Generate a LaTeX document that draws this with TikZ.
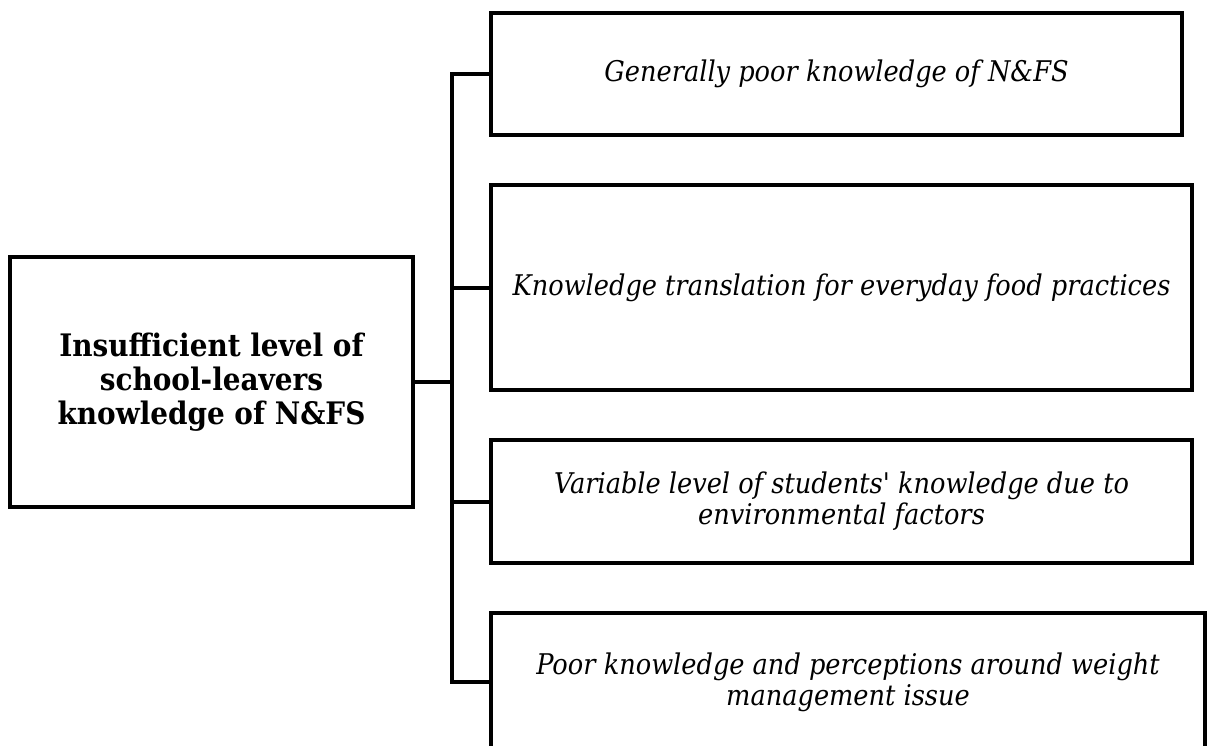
\documentclass[tikz,border=0pt]{standalone}
\usepackage{fontspec}
\setmainfont{DejaVu Serif Condensed}
\begin{document}
\begin{tikzpicture}[x=1pt,y=-1pt,
  box/.style={draw=black, line width=4pt, rectangle, inner sep=0pt, fill=white},
  itext/.style={font=\fontsize{28.5}{31}\selectfont\itshape, align=center},
  btext/.style={font=\fontsize{31}{34}\selectfont\bfseries, align=center},
  conn/.style={draw=black, line width=4pt}]
\useasboundingbox (0,0) rectangle (1213,745);
\clip (0,0) rectangle (1213,745);
\fill[white] (0,0) rectangle (1213,745);
\node[box, btext, minimum width=403pt, minimum height=250pt] (main) at (211.5,382)
  {Insufficient level of\\school-leavers\\knowledge of N\&FS};
\node[box, itext, minimum width=691pt, minimum height=122pt] (b1) at (836.5,74)
  {Generally poor knowledge of N\&FS};
\node[box, itext, minimum width=701pt, minimum height=205pt] (b2) at (841.5,287.5)
  {Knowledge translation for everyday food practices};
\node[box, itext, minimum width=701pt, minimum height=123pt] (b3) at (841.5,501.5)
  {Variable level of students\textquotesingle{} knowledge due to\\environmental factors};
\node[box, itext, minimum width=714pt, minimum height=138pt] (b4) at (848,682)
  {Poor knowledge and perceptions around weight\\management issue};
\coordinate (j) at (452,383);
\draw[conn] (b1.west) -- (b1.west -| j) -- (b4.west -| j) -- (b4.west);
\draw[conn] (b2.west) -- (b2.west -| j);
\draw[conn] (b3.west) -- (b3.west -| j);
\draw[conn] (main.east) -- (main.east -| j);
\end{tikzpicture}
\end{document}
